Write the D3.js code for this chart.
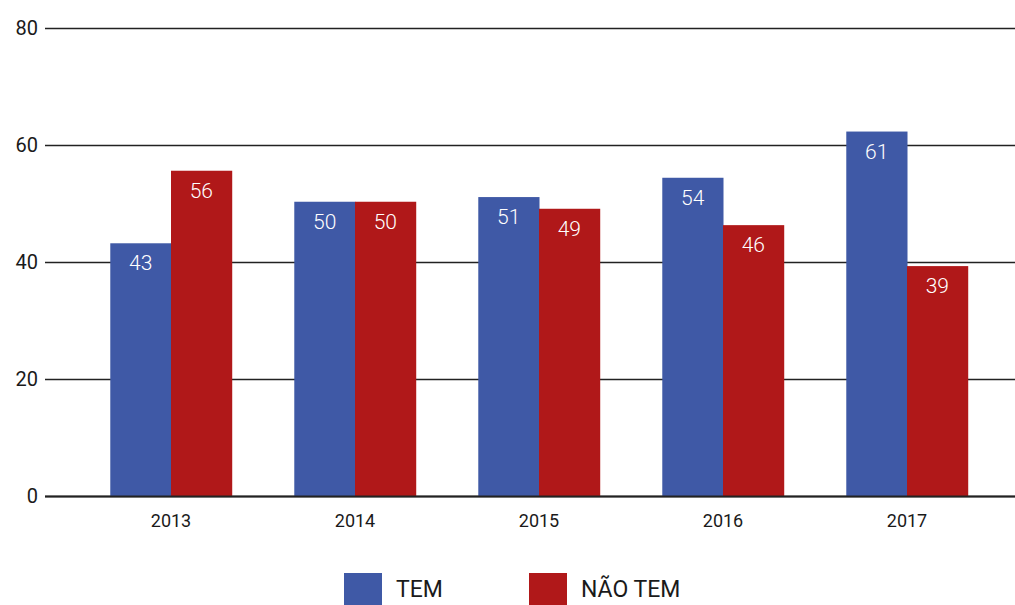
<!DOCTYPE html>
<html><head><meta charset="utf-8">
<script src="https://cdn.jsdelivr.net/npm/d3@7/dist/d3.min.js"></script>
<style>
body{margin:0;background:#fff;}
text{font-family:Roboto,"Liberation Sans",sans-serif;font-weight:400;}
text.v{font-weight:300;}
</style></head>
<body><svg id="c" width="1015" height="605"></svg>
<script>
const years = ["2013","2014","2015","2016","2017"];
const seriesNames = ["TEM","NÃO TEM"];
const temValues = [43.2, 50.3, 51.1, 54.4, 62.3];
const naoTemValues = [55.6, 50.3, 49.1, 46.3, 39.3];
const temLabels = ["43","50","51","54","61"];
const naoTemLabels = ["56","50","49","46","39"];
const yTicks = [0,20,40,60,80];
const colors = ["#3f59a6","#b01819"];

const svg = d3.select("#c");
const y = d3.scaleLinear().domain([0,80]).range([496,28]);
const x = d3.scaleBand().domain(years).range([79,999]).paddingInner(0.34).paddingOuter(0.17);
const xs = d3.scaleBand().domain(seriesNames).range([0,x.bandwidth()]);

svg.append("g").selectAll("line").data(yTicks).join("line")
  .attr("x1",45).attr("x2",1015)
  .attr("y1",d=>y(d)+0.5).attr("y2",d=>y(d)+0.5)
  .attr("stroke","#222").attr("stroke-width",1.3);

svg.append("g").selectAll("text").data(yTicks).join("text")
  .attr("x",38).attr("y",d=>y(d)).attr("dy","0.36em")
  .attr("text-anchor","end").attr("font-size",20).attr("fill","#1a1a1a")
  .text(d=>d);

const data = years.map((yr,i)=>({year:yr, vals:[
  {s:seriesNames[0], v:temValues[i], l:temLabels[i], c:colors[0]},
  {s:seriesNames[1], v:naoTemValues[i], l:naoTemLabels[i], c:colors[1]}]}));

const g = svg.append("g").selectAll("g").data(data).join("g")
  .attr("transform",d=>`translate(${x(d.year)},0)`);
g.selectAll("rect").data(d=>d.vals).join("rect")
  .attr("x",d=>xs(d.s)).attr("width",xs.bandwidth()+0.5)
  .attr("y",d=>y(d.v)).attr("height",d=>y(0)-y(d.v))
  .attr("fill",d=>d.c);
g.selectAll("text.v").data(d=>d.vals).join("text").attr("class","v")
  .attr("x",d=>xs(d.s)+xs.bandwidth()/2).attr("y",d=>y(d.v)+27)
  .attr("text-anchor","middle").attr("font-size",21).attr("fill","#fff")
  .text(d=>d.l);

svg.append("line").attr("x1",45).attr("x2",1015).attr("y1",y(0)+0.5).attr("y2",y(0)+0.5)
  .attr("stroke","#222").attr("stroke-width",1.8);

svg.append("g").selectAll("text").data(years).join("text")
  .attr("x",d=>x(d)+x.bandwidth()/2).attr("y",527)
  .attr("text-anchor","middle").attr("font-size",18).attr("fill","#1a1a1a")
  .text(d=>d);

const legX = [344,529];
const lg = svg.append("g").selectAll("g").data(seriesNames).join("g")
  .attr("transform",(d,i)=>`translate(${legX[i]},573)`);
lg.append("rect").attr("width",38).attr("height",32).attr("fill",(d,i)=>colors[i]);
lg.append("text").attr("x",52).attr("y",24).attr("font-size",23).attr("fill","#1a1a1a").text(d=>d);
</script></body></html>
